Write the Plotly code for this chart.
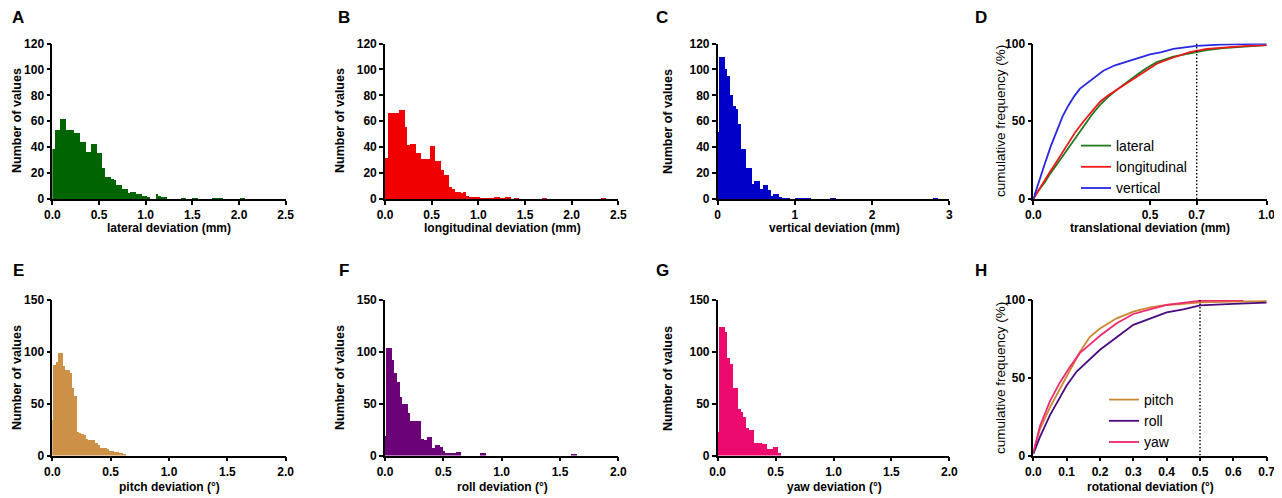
import plotly.graph_objects as go

# ---------------- data ----------------
# Histograms (counts per bin)
lateral_w = 0.03
lateral_counts = [39, 54, 54, 62, 62, 54, 54, 54, 51, 51, 44, 44, 37, 37, 43, 43, 36, 36, 24, 17,
                  17, 16, 15, 11, 11, 8, 8, 5, 6, 6, 4, 4, 3, 3, 2, 0, 0, 4, 3, 2,
                  2, 0, 0, 0, 0, 0, 1, 1, 0, 0, 1, 1, 0, 0, 0, 0, 0, 1, 1, 1,
                  1, 0, 0, 0, 0, 0, 0, 1, 1]
longit_w = 0.03
longit_counts = [32, 67, 67, 67, 67, 69, 69, 56, 42, 43, 43, 36, 36, 31, 31, 31, 41, 41, 30, 30,
                 23, 19, 19, 10, 8, 6, 6, 5, 6, 3, 2, 2, 2, 2, 1, 1, 1, 1, 1, 2,
                 2, 1, 1, 2, 2, 0, 1, 1, 0, 0, 0, 0, 0, 0, 0, 0, 1, 1, 0, 0,
                 0, 0, 0, 0, 0, 0, 0, 0, 0, 0, 0, 0, 0, 0, 0, 0, 0, 1, 1]
vert_w = 0.035
vert_counts = [52, 110, 110, 101, 95, 81, 72, 70, 58, 39, 39, 24, 24, 12, 14, 14, 8, 11, 11, 7,
               3, 4, 4, 2, 1, 1, 1, 0, 0, 1, 1, 1, 1, 1, 1, 0, 0, 0, 0, 0,
               0, 0, 1, 1, 0, 0, 0, 0, 0, 0, 0, 0, 0, 0, 0, 0, 0, 0, 0, 0,
               0, 0, 0, 0, 0, 0, 0, 0, 0, 0, 0, 0, 0, 0, 0, 0, 0, 0, 0, 0,
               1, 1]
pitch_w = 0.02
pitch_counts = [34, 87, 90, 99, 99, 86, 82, 82, 80, 65, 57, 23, 22, 21, 20, 16, 15, 15, 15, 12,
                10, 7, 7, 7, 6, 4, 4, 3, 3, 2, 2, 1]
roll_w = 0.023
roll_counts = [19, 104, 104, 92, 80, 71, 56, 50, 50, 41, 33, 33, 33, 33, 16, 15, 18, 18, 7, 10,
               10, 8, 4, 2, 2, 2, 2, 3, 3, 0, 0, 0, 0, 0, 0, 0, 2, 2, 0, 0,
               0, 0, 0, 0, 0, 0, 0, 0, 0, 0, 0, 0, 0, 0, 0, 0, 0, 0, 0, 0,
               0, 0, 0, 0, 0, 0, 0, 0, 0, 0, 1, 1]
yaw_w = 0.023
yaw_counts = [23, 124, 124, 119, 94, 88, 65, 65, 45, 42, 37, 27, 25, 25, 12, 12, 12, 11, 11, 6,
              6, 8, 8, 2]

# Cumulative frequency curves (D)
lat_cdf_x = [0, 0.02, 0.05, 0.071, 0.1, 0.143, 0.18, 0.214, 0.25, 0.286, 0.32, 0.357, 0.414,
             0.45, 0.486, 0.529, 0.6, 0.671, 0.743, 0.814, 0.9, 1.0]
lat_cdf_y = [0, 5, 11, 16, 22, 31, 39, 46.4, 54, 60.5, 65.5, 70.2, 76.7, 80.5, 84.2, 88, 91.5,
             93.7, 95.8, 97, 97.8, 99]
lon_cdf_x = [0, 0.02, 0.05, 0.071, 0.1, 0.143, 0.18, 0.214, 0.25, 0.286, 0.32, 0.357, 0.414,
             0.45, 0.486, 0.529, 0.6, 0.671, 0.743, 0.814, 0.9, 1.0]
lon_cdf_y = [0, 5, 12, 17.3, 24, 34.6, 43, 49.7, 56, 62.6, 66.5, 70.2, 75.6, 79.5, 83, 87, 91,
             94.5, 96.5, 97.5, 98.3, 99]
ver_cdf_x = [0, 0.025, 0.05, 0.075, 0.1, 0.125, 0.15, 0.175, 0.2, 0.25, 0.3, 0.35, 0.4, 0.45,
             0.5, 0.55, 0.6, 0.65, 0.7, 0.8, 0.9, 1.0]
ver_cdf_y = [0, 12, 23, 34, 44, 53, 60, 66, 71, 77, 82.5, 86, 88.5, 91, 93, 94.5, 96.5, 97.5,
             98.5, 99.3, 99.7, 100]

# Cumulative frequency curves (H)
pitch_cdf_x = [0, 0.02, 0.05, 0.08, 0.11, 0.14, 0.17, 0.2, 0.25, 0.3, 0.35, 0.4, 0.45, 0.5, 0.6, 0.7]
pitch_cdf_y = [2, 17, 31, 43, 55, 66.7, 76.3, 81.7, 88.2, 92.5, 95.2, 96.8, 97.6, 98.5, 99, 99.2]
roll_cdf_x = [0, 0.02, 0.05, 0.08, 0.1, 0.13, 0.17, 0.2, 0.25, 0.3, 0.35, 0.4, 0.45, 0.5, 0.6, 0.7]
roll_cdf_y = [1, 12, 26, 38, 45, 54, 62, 68, 76, 84, 88, 92, 94, 96.5, 97.5, 98.3]
yaw_cdf_x = [0, 0.02, 0.05, 0.08, 0.11, 0.14, 0.17, 0.2, 0.25, 0.3, 0.35, 0.4, 0.5, 0.63]
yaw_cdf_y = [2, 19, 35, 47, 57, 66, 71.5, 77, 85, 91, 94, 96.8, 99.5, 100]

trans_cutoff = 0.7
rot_cutoff = 0.5

# ---------------- styling ----------------
FONT = "Arial, Liberation Sans, sans-serif"
OFF = 8  # page body margin
W, H = 1282 - OFF, 498 - OFF

def fx(p):
    return (p - OFF) / W

def fy(p):
    return 1 - (p - OFF) / H

col_x = [[fx(52.3), fx(285.7)], [fx(385), fx(618.3)], [fx(717.7), fx(949.3)], [fx(1033.3), fx(1266.7)]]
row_y = [[fy(199), fy(43.5)], [fy(455.5), fy(300)]]

fig = go.Figure()

def add_hist(idx, counts, width, centered, color):
    offset = 0.0 if centered else width / 2
    xs = [offset + i * width for i in range(len(counts))]
    fig.add_trace(go.Bar(x=xs, y=counts, width=width, marker=dict(color=color, line=dict(width=0)),
                         xaxis=f"x{idx}", yaxis=f"y{idx}", showlegend=False, hoverinfo="skip"))

add_hist(1, lateral_counts, lateral_w, False, "#006400")
add_hist(2, longit_counts, longit_w, False, "#F00000")
add_hist(3, vert_counts, vert_w, True, "#0000C8")
add_hist(5, pitch_counts, pitch_w, True, "#CC9147")
add_hist(6, roll_counts, roll_w, True, "#6B0277")
add_hist(7, yaw_counts, yaw_w, True, "#EC0A6E")

def add_line(idx, xs, ys, color, name, legend):
    fig.add_trace(go.Scatter(x=xs, y=ys, mode="lines", line=dict(color=color, width=1.8),
                             name=name, xaxis=f"x{idx}", yaxis=f"y{idx}", legend=legend,
                             hoverinfo="skip"))

add_line(4, lat_cdf_x, lat_cdf_y, "#1E7A1E", "lateral", "legend")
add_line(4, lon_cdf_x, lon_cdf_y, "#F01818", "longitudinal", "legend")
add_line(4, ver_cdf_x, ver_cdf_y, "#2828E6", "vertical", "legend")
add_line(8, pitch_cdf_x, pitch_cdf_y, "#CC8530", "pitch", "legend2")
add_line(8, roll_cdf_x, roll_cdf_y, "#4B0A80", "roll", "legend2")
add_line(8, yaw_cdf_x, yaw_cdf_y, "#F0286E", "yaw", "legend2")

tickfont = dict(family=FONT, size=12, color="black", weight="bold")
axis_common = dict(showline=True, linecolor="black", linewidth=1.6, ticks="outside",
                   ticklen=4, tickwidth=1.5, tickcolor="black", showgrid=False,
                   zeroline=False, tickfont=tickfont, mirror=False, fixedrange=True,
                   automargin=False)

x_specs = {
    1: dict(range=[0, 2.5], tickvals=[0, 0.5, 1.0, 1.5, 2.0, 2.5], tickformat=".1f"),
    2: dict(range=[0, 2.5], tickvals=[0, 0.5, 1.0, 1.5, 2.0, 2.5], tickformat=".1f"),
    3: dict(range=[0, 3], tickvals=[0, 1, 2, 3], tickformat="d"),
    4: dict(range=[0, 1.0], tickvals=[0, 0.5, 0.7, 1.0], tickformat=".1f"),
    5: dict(range=[0, 2.0], tickvals=[0, 0.5, 1.0, 1.5, 2.0], tickformat=".1f"),
    6: dict(range=[0, 2.0], tickvals=[0, 0.5, 1.0, 1.5, 2.0], tickformat=".1f"),
    7: dict(range=[0, 2.0], tickvals=[0, 0.5, 1.0, 1.5, 2.0], tickformat=".1f"),
    8: dict(range=[0, 0.7], tickvals=[0, 0.1, 0.2, 0.3, 0.4, 0.5, 0.6, 0.7], tickformat=".1f"),
}
y_specs = {
    1: dict(range=[0, 120], tickvals=[0, 20, 40, 60, 80, 100, 120]),
    2: dict(range=[0, 120], tickvals=[0, 20, 40, 60, 80, 100, 120]),
    3: dict(range=[0, 120], tickvals=[0, 20, 40, 60, 80, 100, 120]),
    4: dict(range=[0, 100], tickvals=[0, 50, 100]),
    5: dict(range=[0, 150], tickvals=[0, 50, 100, 150]),
    6: dict(range=[0, 150], tickvals=[0, 50, 100, 150]),
    7: dict(range=[0, 150], tickvals=[0, 50, 100, 150]),
    8: dict(range=[0, 100], tickvals=[0, 50, 100]),
}

layout_axes = {}
for i in range(1, 9):
    col = (i - 1) % 4
    row = (i - 1) // 4
    xk = "xaxis" if i == 1 else f"xaxis{i}"
    yk = "yaxis" if i == 1 else f"yaxis{i}"
    layout_axes[xk] = dict(axis_common, domain=col_x[col], anchor=f"y{i}", **x_specs[i])
    layout_axes[yk] = dict(axis_common, domain=row_y[row], anchor=f"x{i}", **y_specs[i])

fig.update_layout(**layout_axes)

# dotted cut-off lines
fig.add_shape(type="line", xref="x4", yref="y4", x0=trans_cutoff, x1=trans_cutoff, y0=0, y1=100,
              line=dict(color="black", width=1.4, dash="1.5px,2px"))
fig.add_shape(type="line", xref="x8", yref="y8", x0=rot_cutoff, x1=rot_cutoff, y0=0, y1=100,
              line=dict(color="black", width=1.4, dash="1.5px,2px"))

annots = []
def txt(x, y, s, size=12, bold=True, angle=0):
    annots.append(dict(x=fx(x), y=fy(y), xref="paper", yref="paper", text=s, showarrow=False,
                       textangle=angle, xanchor="center", yanchor="middle",
                       font=dict(family=FONT, size=size, color="black",
                                 weight="bold" if bold else "normal")))

# panel letters
for letter, (x, y) in zip("ABCDEFGH", [(18, 17), (344, 17), (662, 17), (981, 17),
                                      (18, 270), (344, 270), (662, 270), (981, 270)]):
    txt(x, y, letter, size=17)

# x titles
txt(169, 228, "lateral deviation (mm)")
txt(502, 228, "longitudinal deviation (mm)")
txt(834, 228, "vertical deviation (mm)")
txt(1150, 228, "translational deviation (mm)")
txt(169, 487, "pitch deviation (°)")
txt(502, 487, "roll deviation (°)")
txt(834, 487, "yaw deviation (°)")
txt(1150, 487, "rotational deviation (°)")

# y titles
txt(17, 121, "Number of values", size=12.5, angle=-90)
txt(340, 121, "Number of values", size=12.5, angle=-90)
txt(668, 121, "Number of values", size=12.5, angle=-90)
txt(1000, 121, "cumulative frequency (%)", bold=False, size=13.5, angle=-90)
txt(17, 378, "Number of values", size=12.5, angle=-90)
txt(340, 378, "Number of values", size=12.5, angle=-90)
txt(668, 378, "Number of values", size=12.5, angle=-90)
txt(1000, 378, "cumulative frequency (%)", bold=False, size=13.5, angle=-90)

legend_style = dict(font=dict(family=FONT, size=14, color="black"), bgcolor="rgba(0,0,0,0)",
                    borderwidth=0, xanchor="left", yanchor="top", itemwidth=30,
                    tracegroupgap=0)
fig.update_layout(
    width=W, height=H, margin=dict(l=0, r=0, t=0, b=0, autoexpand=False),
    paper_bgcolor="white", plot_bgcolor="white",
    bargap=0, barmode="overlay",
    annotations=annots,
    legend=dict(legend_style, x=fx(1076), y=fy(130)),
    legend2=dict(legend_style, x=fx(1104), y=fy(384)),
)

fig.write_html("out.html")
